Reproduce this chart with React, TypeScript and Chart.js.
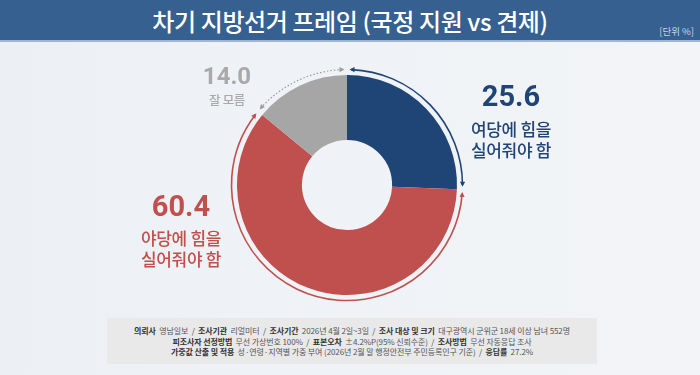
import React, { useEffect, useRef } from "react";
import { Chart, registerables } from "chart.js";

Chart.register(...registerables);

const title = "차기 지방선거 프레임 (국정 지원 vs 견제)";
const unitLabel = "[단위 %]";
const categories = ["여당에 힘을 실어줘야 함", "야당에 힘을 실어줘야 함", "잘 모름"];
const labelLines = [["여당에 힘을", "실어줘야 함"], ["야당에 힘을", "실어줘야 함"], ["잘 모름"]];
const values = [25.6, 60.4, 14.0];
const sliceColors = ["#1f4577", "#c0504d", "#a6a6a6"];
const textColors = ["#1f4577", "#c0504d", "#a9a9a9"];
const ringColors = ["#1f4577", "#c0504d", "#9c9c9c"];
const footerLines: [string, string][][] = [
  [["의뢰사", "영남일보"], ["조사기관", "리얼미터"], ["조사기간", "2026년 4월 2일~3일"], ["조사 대상 및 크기", "대구광역시 군위군 18세 이상 남녀 552명"]],
  [["피조사자 선정방법", "무선 가상번호 100%"], ["표본오차", "±4.2%P(95% 신뢰수준)"], ["조사방법", "무선 자동응답 조사"]],
  [["가중값 산출 및 적용", "성·연령·지역별 가중 부여 (2026년 2월 말 행정안전부 주민등록인구 기준)"], ["응답률", "27.2%"]],
];

const KR = '"Noto Sans CJK KR", "Noto Sans", sans-serif';

const ringPlugin = {
  id: "ringArrows",
  afterDatasetsDraw(chart: any) {
    const ctx = chart.ctx as CanvasRenderingContext2D;
    const meta = chart.getDatasetMeta(0);
    meta.data.forEach((arc: any, i: number) => {
      const { x, y, startAngle, endAngle, outerRadius } = arc.getProps(
        ["x", "y", "startAngle", "endAngle", "outerRadius"],
        true
      );
      const r = outerRadius + 5.5;
      const gap = 0.022;
      const a0 = startAngle + gap;
      const a1 = endAngle - gap;
      ctx.save();
      ctx.strokeStyle = ringColors[i];
      ctx.fillStyle = ringColors[i];
      ctx.lineWidth = i === 2 ? 1.2 : 1.6;
      if (i === 2) ctx.setLineDash([1.5, 2]);
      ctx.beginPath();
      ctx.arc(x, y, r, a0 + 0.015, a1 - 0.015);
      ctx.stroke();
      ctx.setLineDash([]);
      const head = (a: number, dir: number) => {
        const px = x + r * Math.cos(a);
        const py = y + r * Math.sin(a);
        const tx = -Math.sin(a) * dir;
        const ty = Math.cos(a) * dir;
        const nx = Math.cos(a);
        const ny = Math.sin(a);
        const len = 5;
        const w = 2.6;
        ctx.beginPath();
        ctx.moveTo(px, py);
        ctx.lineTo(px - tx * len + nx * w, py - ty * len + ny * w);
        ctx.lineTo(px - tx * len - nx * w, py - ty * len - ny * w);
        ctx.closePath();
        ctx.fill();
      };
      head(a0, -1);
      head(a1, 1);
      ctx.restore();
    });
  },
};

function Donut() {
  const ref = useRef<HTMLCanvasElement>(null);
  useEffect(() => {
    if (!ref.current) return;
    const chart = new Chart(ref.current, {
      type: "doughnut",
      data: {
        labels: categories,
        datasets: [
          {
            data: values,
            backgroundColor: sliceColors,
            borderWidth: 0,
          },
        ],
      },
      options: {
        animation: false,
        responsive: false,
        maintainAspectRatio: false,
        cutout: "41%",
        layout: { padding: 20 },
        plugins: { legend: { display: false }, tooltip: { enabled: false } },
      },
      plugins: [ringPlugin],
    });
    return () => chart.destroy();
  }, []);
  return (
    <canvas
      ref={ref}
      width={260}
      height={260}
      style={{ position: "absolute", left: 217, top: 55, width: 260, height: 260 }}
    />
  );
}

const labelPos = [
  { x: 511, vy: 96, ly: 128, vs: 29, ls: 17, lh: 21 },
  { x: 181, vy: 206, ly: 237, vs: 29, ls: 17, lh: 21 },
  { x: 227, vy: 76, ly: 100, vs: 24, ls: 12.5, lh: 16 },
];

export default function App() {
  return (
    <div
      style={{
        position: "fixed",
        left: 0,
        top: 0,
        width: 700,
        height: 375,
        overflow: "hidden",
        background: "linear-gradient(90deg, #eceff4 0%, #eff2f6 40%, #f2f4f7 100%)",
        fontFamily: KR,
      }}
    >
      <div
        style={{
          position: "absolute",
          left: 0,
          top: 0,
          width: 700,
          height: 40,
          background: "#36608f",
          borderBottom: "2px solid #9fb5d0",
        }}
      />
      <div
        style={{
          position: "absolute",
          left: 0,
          top: 0,
          width: 700,
          height: 41,
          lineHeight: "41px",
          textAlign: "center",
          color: "#ffffff",
          fontSize: 24,
          fontWeight: 500,
          letterSpacing: -0.4,
        }}
      >
        {title}
      </div>
      <div
        style={{
          position: "absolute",
          right: 6,
          top: 25,
          color: "#c8d5e6",
          fontSize: 9.5,
          lineHeight: "12px",
        }}
      >
        {unitLabel}
      </div>
      <Donut />
      {values.map((v, i) => {
        const p = labelPos[i];
        return (
          <React.Fragment key={i}>
            <div
              style={{
                position: "absolute",
                left: p.x - 80,
                width: 160,
                top: p.vy - p.vs * 0.6,
                height: p.vs * 1.2,
                lineHeight: `${p.vs * 1.2}px`,
                textAlign: "center",
                fontFamily: 'Roboto, "Noto Sans", sans-serif',
                fontWeight: 700,
                fontSize: p.vs,
                color: textColors[i],
              }}
            >
              {v.toFixed(1)}
            </div>
            {labelLines[i].map((t, j) => (
              <div
                key={j}
                style={{
                  position: "absolute",
                  left: p.x - 80,
                  width: 160,
                  top: p.ly + j * p.lh - p.lh / 2,
                  height: p.lh,
                  lineHeight: `${p.lh}px`,
                  textAlign: "center",
                  fontSize: p.ls,
                  fontWeight: 500,
                  color: textColors[i],
                  letterSpacing: -0.3,
                }}
              >
                {t}
              </div>
            ))}
          </React.Fragment>
        );
      })}
      <div
        style={{
          position: "absolute",
          left: 107,
          top: 318,
          width: 490,
          height: 46,
          background: "#e9e9ea",
        }}
      />
      {footerLines.map((line, li) => (
        <div
          key={li}
          style={{
            position: "absolute",
            left: 107,
            width: 490,
            top: 326 + li * 10.5,
            height: 10.5,
            lineHeight: "10.5px",
            textAlign: "center",
            fontSize: 8,
            color: "#555",
            whiteSpace: "pre",
            letterSpacing: -0.1,
          }}
        >
          {line.map(([k, v], ki) => (
            <React.Fragment key={ki}>
              {ki > 0 ? <span style={{ color: "#444" }}>{"  /  "}</span> : null}
              <b style={{ color: "#333", fontWeight: 700 }}>{k}</b>
              <span>{"  " + v}</span>
            </React.Fragment>
          ))}
        </div>
      ))}
    </div>
  );
}
